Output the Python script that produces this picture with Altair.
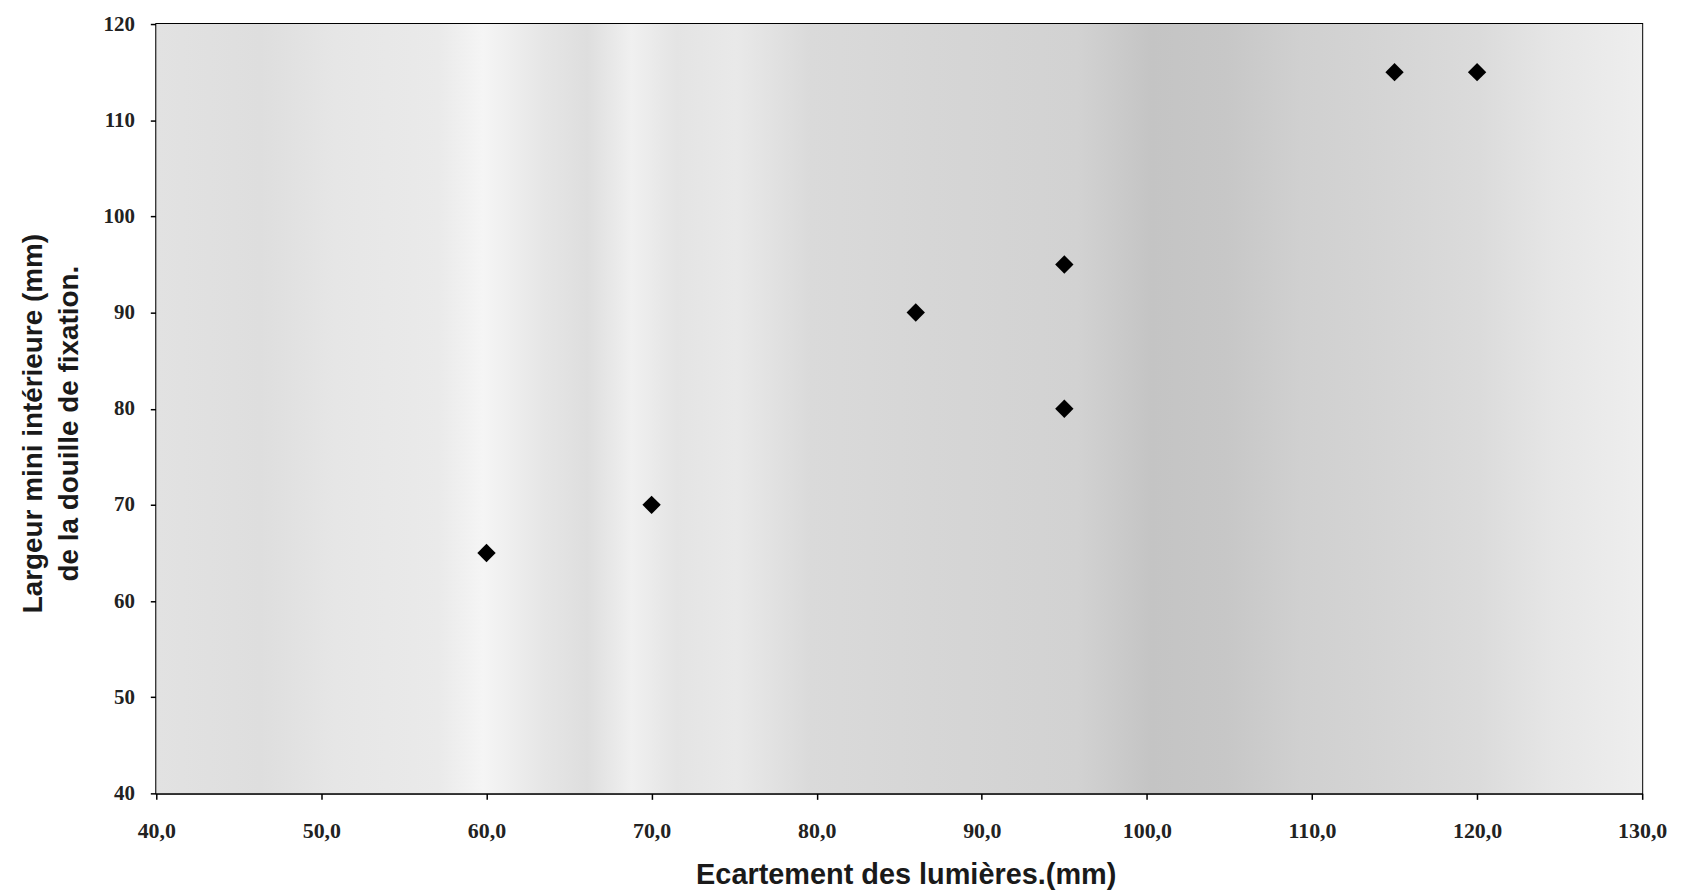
import altair as alt
import pandas as pd

# Data
x_vals = [60, 70, 86, 95, 95, 115, 120]
y_vals = [65, 70, 90, 95, 80, 115, 115]
x_ticks = [40, 50, 60, 70, 80, 90, 100, 110, 120, 130]
y_ticks = [40, 50, 60, 70, 80, 90, 100, 110, 120]
x_title = "Ecartement des lumières.(mm)"
y_title = ["Largeur mini intérieure (mm)", "de la douille de fixation."]

# scanned-paper background tone across the plot (offset, grey)
bg_offsets = [0.0, 0.07, 0.12, 0.19, 0.22, 0.26, 0.29, 0.32, 0.35, 0.39, 0.44, 0.52, 0.62, 0.67, 0.72, 0.77, 0.82, 0.89, 0.94, 1.0]
bg_colors = ["#e2e2e2", "#dedede", "#e6e6e6", "#eaeaea", "#f5f5f5", "#e6e6e6", "#dedede", "#f0f0f0",
             "#e4e4e4", "#e9e9e9", "#dadada", "#d6d6d6", "#d2d2d2", "#c4c4c4", "#c7c7c7", "#d0d0d0",
             "#d4d4d4", "#dbdbdb", "#e6e6e6", "#eeeeee"]

df = pd.DataFrame({"x": x_vals, "y": y_vals})

gradient = alt.LinearGradient(
    gradient="linear",
    stops=[alt.GradientStop(color=c, offset=o) for o, c in zip(bg_offsets, bg_colors)],
    x1=0, x2=1, y1=0, y2=0,
)

bg = alt.Chart(pd.DataFrame({"a": [0]})).mark_rect(fill=gradient).encode(
    x=alt.value(0), x2=alt.value("width"), y=alt.value(0), y2=alt.value("height")
)

pts = alt.Chart(df).mark_point(shape="diamond", filled=True, color="black", size=340, opacity=1).encode(
    x=alt.X(
        "x:Q",
        scale=alt.Scale(domain=[40, 130], nice=False, zero=False),
        axis=alt.Axis(
            values=x_ticks,
            labelExpr="replace(format(datum.value, '.1f'), '.', ',')",
            labelFont="Liberation Serif", labelFontSize=22, labelFontWeight="bold",
            labelColor="#222222",
            labelFlush=False, labelOverlap=False, labelPadding=21,
            tickColor="black", tickSize=6, tickWidth=1.5,
            domainColor="black", domainWidth=2, grid=False,
            title=x_title, titleFont="Liberation Sans", titleFontSize=29,
            titleFontWeight="bold", titleColor="#1a1a1a",
            titleBaseline="alphabetic", titleY=91, titleX=753, titleAlign="center",
        ),
    ),
    y=alt.Y(
        "y:Q",
        scale=alt.Scale(domain=[40, 120], nice=False, zero=False),
        axis=alt.Axis(
            values=y_ticks, format="d",
            labelFont="Liberation Serif", labelFontSize=21, labelFontWeight="bold",
            labelColor="#222222",
            labelPadding=16,
            tickColor="black", tickSize=6, tickWidth=1.5,
            domainColor="black", domainWidth=2, grid=False,
            title=y_title, titleFont="Liberation Sans", titleFontSize=28,
            titleFontWeight="bold", titleColor="#1a1a1a",
            titleBaseline="alphabetic", titleX=-115, titleY=401, titleAlign="center",
            titleLineHeight=36, titleAngle=270,
        ),
    ),
)

chart = alt.layer(bg, pts).properties(
    width=1493, height=773,
    padding={"left": 149, "top": 14, "right": 40, "bottom": 100},
    autosize=alt.AutoSizeParams(type="none"),
    background="white",
).configure_view(stroke="black", strokeWidth=2)

chart.save("out.html", embed_options={"renderer": "svg", "actions": False})
